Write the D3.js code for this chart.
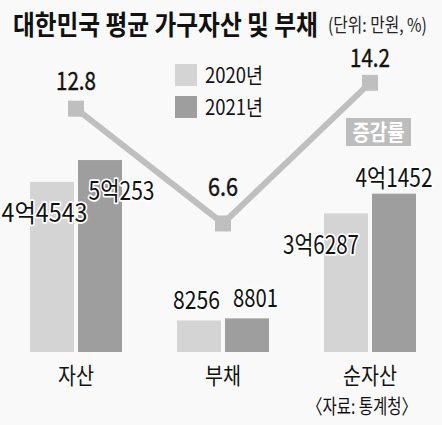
<!DOCTYPE html>
<html><head><meta charset="utf-8">
<script src="https://cdn.jsdelivr.net/npm/d3@7"></script>
<style>
html,body{margin:0;padding:0;background:#f9f9f9;}
svg{display:block;font-family:"Noto Sans CJK KR","Noto Sans",sans-serif;}
</style></head>
<body><svg id="c" width="442" height="425"></svg>
<script>
const categories = ["자산", "부채", "순자산"];
const seriesNames = ["2020년", "2021년"];
const values2020 = [44543, 8256, 36287];
const values2021 = [50253, 8801, 41452];
const labels2020 = ["4억4543", "8256", "3억6287"];
const labels2021 = ["5억253", "8801", "4억1452"];
const changeRate = [12.8, 6.6, 14.2];

const colors = ["#d4d4d4", "#9e9e9e"];
const lineColor = "#bfbfbf";

const svg = d3.select("#c");
svg.append("rect").attr("width",442).attr("height",425).attr("fill","#f9f9f9");

const x = d3.scalePoint().domain(categories).range([76, 370]);
const y = d3.scaleLinear().domain([0, 50000]).range([352, 161]);
const yr = d3.scaleLinear().domain([0, 15]).range([345.6, 68]);
const barW = 44, gap = 4;

// condense a text horizontally to a target width around its x anchor
function fitText(sel, w) {
  const node = sel.node();
  const nat = node.getComputedTextLength();
  const k = w / nat;
  const ax = +sel.attr("x");
  sel.attr("transform", `translate(${ax},0) scale(${k},1) translate(${-ax},0)`);
  return sel;
}

// title
fitText(svg.append("text").attr("x",13).attr("y",35).attr("font-size",27).attr("font-weight",700)
  .attr("fill","#111").text("대한민국 평균 가구자산 및 부채"), 305);
fitText(svg.append("text").attr("x",328).attr("y",32).attr("font-size",19).attr("font-weight",400)
  .attr("fill","#222").text("(단위: 만원, %)"), 99);

// legend
seriesNames.forEach((s,i)=>{
  svg.append("rect").attr("x",175).attr("y",64+i*32).attr("width",22).attr("height",22).attr("fill",colors[i]);
  fitText(svg.append("text").attr("x",205).attr("y",83+i*32).attr("font-size",21).attr("fill","#111").text(s), 58);
});

// bars
const data = categories.map((c,i)=>({c, v:[values2020[i], values2021[i]], l:[labels2020[i], labels2021[i]]}));
const barG = svg.append("g");
data.forEach(d=>{
  d.v.forEach((v,j)=>{
    const bx = x(d.c) - barW - gap/2 + j*(barW+gap);
    barG.append("rect").attr("x",bx).attr("y",y(v)).attr("width",barW).attr("height",y(0)-y(v))
      .attr("fill",colors[j]);
  });
});

// line
svg.append("path").datum(changeRate)
  .attr("d", d3.line().x((d,i)=>x(categories[i])).y(d=>yr(d)))
  .attr("fill","none").attr("stroke",lineColor).attr("stroke-width",6);
changeRate.forEach((v,i)=>{
  svg.append("rect").attr("x",x(categories[i])-8).attr("y",yr(v)-8).attr("width",16).attr("height",16).attr("fill",lineColor);
});
// rate labels: [dy, width]
const rateStyle = [[-19, 40], [-27, 30], [-16, 40]];
changeRate.forEach((v,i)=>{
  const t = svg.append("text").attr("x",x(categories[i])).attr("y",yr(v)+rateStyle[i][0])
    .attr("text-anchor","middle").attr("font-size",25).attr("font-weight",400).attr("fill","#111")
    .attr("stroke","#111").attr("stroke-width",0.4)
    .text(d3.format(".1f")(v));
  fitText(t, rateStyle[i][1]);
});

// 증감률 box
svg.append("rect").attr("x",346).attr("y",118).attr("width",65).attr("height",28).attr("fill","#bdbdbd");
fitText(svg.append("text").attr("x",378.5).attr("y",140).attr("text-anchor","middle").attr("font-size",22)
  .attr("font-weight",700).attr("fill","#fff").text("증감률"), 52);

// value labels: offsets [dx, dy, width] relative to bar top center
const labelStyle = [
  [[-7.5, 40, 86], [21.5, 40, 66]],
  [[-2.5, -11, 47], [8.5, -11, 45]],
  [[-25, 41, 76], [0, -7, 77]]
];
data.forEach((d,i)=>{
  d.v.forEach((v,j)=>{
    const cx = x(d.c) - barW/2 - gap/2 + j*(barW+gap);
    const st = labelStyle[i][j];
    const t = svg.append("text").attr("x",cx+st[0]).attr("y",y(v)+st[1])
      .attr("text-anchor","middle").attr("font-size",25).attr("font-weight",400)
      .attr("fill","#111").attr("stroke","#fff").attr("stroke-width",3.5)
      .attr("stroke-linejoin","round").attr("paint-order","stroke").text(d.l[j]);
    fitText(t, st[2]);
  });
});

// category labels
const catW = [36, 36, 54];
categories.forEach((c,i)=>{
  fitText(svg.append("text").attr("x",x(c)).attr("y",384).attr("text-anchor","middle").attr("font-size",23)
    .attr("fill","#111").text(c), catW[i]);
});
fitText(svg.append("text").attr("x",307).attr("y",414).attr("font-size",20).attr("fill","#111").text("〈자료: 통계청〉"), 110);
</script></body></html>
